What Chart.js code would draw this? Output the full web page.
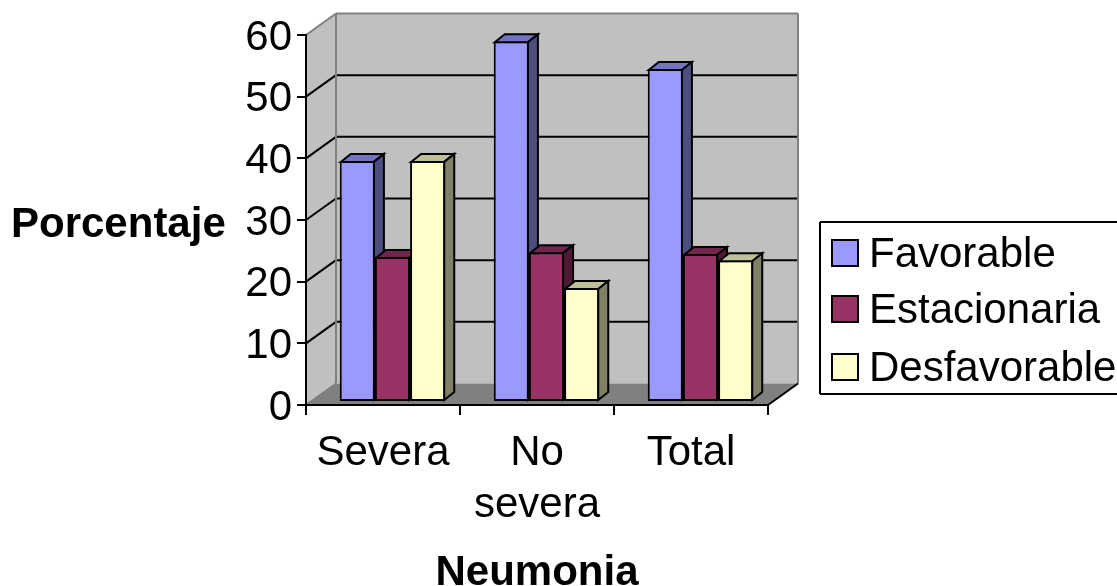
<!DOCTYPE html>
<html>
<head>
<meta charset="utf-8">
<title>Neumonia</title>
<script src="https://cdn.jsdelivr.net/npm/chart.js@4"></script>
<style>
    html, body { margin: 0; padding: 0; background: #fff; overflow: hidden; }
    canvas { display: block; }
</style>
</head>
<body>
<canvas id="chart" width="1117" height="586"></canvas>
<script>
const categories = ['Severa', ['No', 'severa'], 'Total'];
const seriesNames = ['Favorable', 'Estacionaria', 'Desfavorable'];
const favorable = [39.1, 58.5, 54];
const estacionaria = [23.5, 24.3, 24];
const desfavorable = [39.1, 18.5, 23];

const frontColors = ['#9999ff', '#993366', '#ffffcc'];
const sideColors = ['#4d4d80', '#4d1a33', '#808066'];
const topColors = ['#7373bf', '#73264d', '#bfbf99'];

const wallDx = 30, wallDy = -21.5;   // back wall offset from the axes
const floorDx = 9.5, floorDy = -3;   // where the bars stand on the floor
const barDx = 10, barDy = -8;        // bar depth
const fontName = '"Liberation Sans", Arial, sans-serif';
const fontSize = 42;

function poly(ctx, pts, fill, stroke) {
    ctx.beginPath();
    pts.forEach((p, i) => i ? ctx.lineTo(p[0], p[1]) : ctx.moveTo(p[0], p[1]));
    ctx.closePath();
    if (fill) { ctx.fillStyle = fill; ctx.fill(); }
    if (stroke) { ctx.strokeStyle = stroke; ctx.lineWidth = 2; ctx.stroke(); }
}

function line(ctx, x1, y1, x2, y2, color) {
    ctx.beginPath();
    ctx.moveTo(x1, y1);
    ctx.lineTo(x2, y2);
    ctx.strokeStyle = color;
    ctx.lineWidth = 2;
    ctx.stroke();
}

const box3d = {
    id: 'box3d',
    beforeDraw(chart) {
        const { ctx, chartArea: a, scales } = chart;
        const bx = a.left + wallDx, rx = a.right + wallDx;
        const ty = a.top + wallDy, by = a.bottom + wallDy;

        // y tick labels sit a little lower than the tick marks in the original
        if (!scales.y.labelsMoved) {
            const drawLabels = scales.y.drawLabels;
            scales.y.drawLabels = function (area) {
                ctx.save();
                ctx.translate(0, 3);
                drawLabels.call(this, area);
                ctx.restore();
            };
            scales.y.labelsMoved = true;
        }

        ctx.save();
        poly(ctx, [[a.left, a.top], [bx, ty], [bx, by], [a.left, a.bottom]], '#c0c0c0');
        poly(ctx, [[bx, ty], [rx, ty], [rx, by], [bx, by]], '#c0c0c0');
        poly(ctx, [[a.left, a.bottom], [bx, by], [rx, by], [a.right, a.bottom]], '#808080');

        scales.y.ticks.forEach(t => {
            const y = scales.y.getPixelForValue(t.value);
            if (t.value > 0 && t.value < 60) {
                line(ctx, a.left, y, bx, y + wallDy, '#000');
                line(ctx, bx, y + wallDy, rx, y + wallDy, '#000');
            }
        });
        line(ctx, a.left, a.top, bx, ty, '#808080');
        line(ctx, bx, ty, rx, ty, '#808080');
        line(ctx, bx, ty, bx, by, '#808080');
        line(ctx, rx, ty, rx, by, '#808080');
        line(ctx, a.left, a.bottom, bx, by, '#808080');
        line(ctx, a.right, a.bottom, rx, by, '#000');
        ctx.restore();
    },
    beforeDatasetDraw() {
        // bars are drawn below, left to right, so each one covers its neighbour's side
        return false;
    },
    afterDatasetsDraw(chart) {
        const ctx = chart.ctx;
        ctx.save();
        ctx.translate(floorDx, floorDy);
        seriesNames.forEach((name, i) => {
            const meta = chart.getDatasetMeta(i);
            meta.controller.draw();
            meta.data.forEach(el => {
                const p = el.getProps(['x', 'y', 'base', 'width'], true);
                const l = p.x - p.width / 2 + 1, r = p.x + p.width / 2 - 1;
                const t = p.y + 1, b = p.base - 1;
                poly(ctx, [[l, t], [r, t], [r + barDx, t + barDy], [l + barDx, t + barDy]], topColors[i], '#000');
                poly(ctx, [[r, t], [r + barDx, t + barDy], [r + barDx, b + barDy], [r, b]], sideColors[i], '#000');
            });
        });
        ctx.restore();
    },
    afterDraw(chart) {
        const ctx = chart.ctx;
        ctx.save();
        ctx.fillStyle = '#000';
        ctx.textBaseline = 'middle';

        ctx.font = 'bold ' + fontSize + 'px ' + fontName;
        ctx.textAlign = 'left';
        ctx.fillText('Porcentaje', 11, 225);

        // legend box runs off the right edge of the picture
        line(ctx, 1118, 222, 820, 222, '#000');
        line(ctx, 820, 222, 820, 394, '#000');
        line(ctx, 820, 394, 1118, 394, '#000');

        ctx.font = fontSize + 'px ' + fontName;
        const rowY = [253, 309, 367];
        seriesNames.forEach((name, i) => {
            ctx.fillStyle = frontColors[i];
            ctx.fillRect(832, rowY[i] - 13, 26, 26);
            ctx.strokeStyle = '#000';
            ctx.lineWidth = 2;
            ctx.strokeRect(832, rowY[i] - 13, 26, 26);
            ctx.fillStyle = '#000';
            ctx.fillText(name, 869, rowY[i] + 2);
        });
        ctx.restore();
    }
};

function makeDataset(label, values, i) {
    return {
        label,
        data: values,
        backgroundColor: frontColors[i],
        borderColor: '#000',
        borderWidth: 2,
        borderSkipped: false,
        inflateAmount: 0,
        categoryPercentage: 0.685,
        barPercentage: 1
    };
}

new Chart(document.getElementById('chart'), {
    type: 'bar',
    data: {
        labels: categories,
        datasets: [
            makeDataset(seriesNames[0], favorable, 0),
            makeDataset(seriesNames[1], estacionaria, 1),
            makeDataset(seriesNames[2], desfavorable, 2)
        ]
    },
    options: {
        responsive: false,
        animation: false,
        layout: { padding: { left: 0, top: 35, right: 349, bottom: 0 } },
        plugins: {
            legend: { display: false },
            tooltip: { enabled: false }
        },
        scales: {
            x: {
                afterFit(scale) { scale.height = 181; },
                border: { color: '#000', width: 2 },
                grid: { drawOnChartArea: false, color: '#000', lineWidth: 2, tickLength: 10, offset: true },
                ticks: {
                    color: '#000',
                    padding: 12,
                    maxRotation: 0,
                    autoSkip: false,
                    font: { family: fontName, size: fontSize, lineHeight: 1.24 }
                },
                title: {
                    display: true,
                    text: 'Neumonia',
                    color: '#000',
                    padding: { top: 0, bottom: -13 },
                    font: { family: fontName, size: fontSize, weight: 'bold' }
                }
            },
            y: {
                min: 0,
                max: 60,
                afterFit(scale) { scale.width = 306; },
                border: { color: '#000', width: 2 },
                grid: { drawOnChartArea: false, color: '#000', lineWidth: 2, tickLength: 9 },
                ticks: {
                    stepSize: 10,
                    color: '#000',
                    padding: 5,
                    font: { family: fontName, size: fontSize }
                }
            }
        }
    },
    plugins: [box3d]
});
</script>
</body>
</html>
